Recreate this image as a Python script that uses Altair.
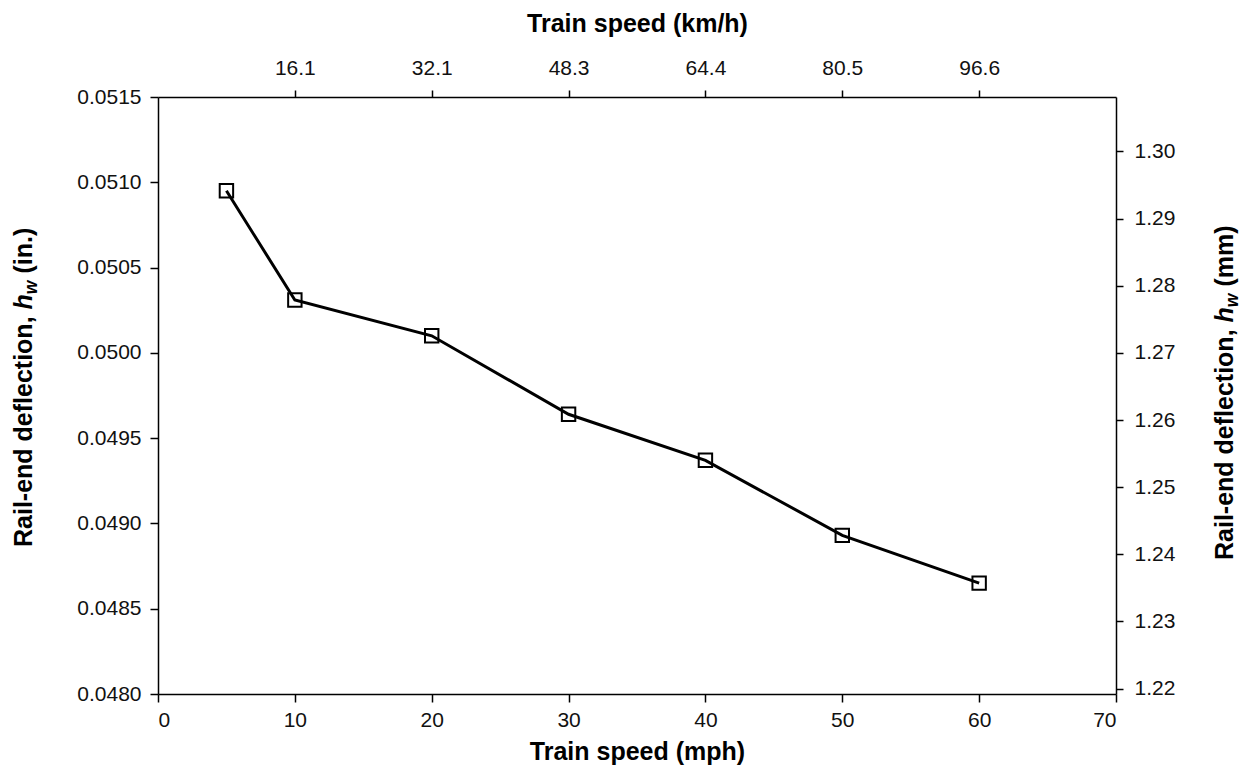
import altair as alt
import pandas as pd

# ---- data ----
speed_mph = [5, 10, 20, 30, 40, 50, 60]
deflection_in = [0.05095, 0.05031, 0.05010, 0.04964, 0.04937, 0.04893, 0.04865]

x_ticks = [0, 10, 20, 30, 40, 50, 60, 70]
y_ticks_in = [0.0480, 0.0485, 0.0490, 0.0495, 0.0500, 0.0505, 0.0510, 0.0515]
y_ticks_mm = [1.22, 1.23, 1.24, 1.25, 1.26, 1.27, 1.28, 1.29, 1.30]
top_ticks_mph = [10, 20, 30, 40, 50, 60]
top_tick_labels = ["16.1", "32.1", "48.3", "64.4", "80.5", "96.6"]

IN_TO_MM = 25.4
x_domain = [0, 70]
y_domain_in = [0.0480, 0.0515]
y_domain_mm = [y_domain_in[0] * IN_TO_MM, y_domain_in[1] * IN_TO_MM]

FONT = "Liberation Sans"
W, H = 958, 597

df = pd.DataFrame({"speed": speed_mph, "defl": deflection_in})
df["defl_mm"] = df["defl"] * IN_TO_MM
one = pd.DataFrame({"a": [0]})

axis_common = dict(
    grid=False, domainColor="black", tickColor="black", domainWidth=1.5,
    tickWidth=1.5, labelColor="#111111", titleColor="black",
    labelFont=FONT, titleFont=FONT, labelFontSize=21, titleFontSize=25,
    titleFontWeight="bold",
)

xs = alt.Scale(domain=x_domain, nice=False, zero=False)
ys_in = alt.Scale(domain=y_domain_in, nice=False, zero=False)
ys_mm = alt.Scale(domain=y_domain_mm, nice=False, zero=False)

x_bottom = alt.X("speed:Q", scale=xs, axis=alt.Axis(
    orient="bottom", values=x_ticks, format="d", title="Train speed (mph)",
    tickSize=8, labelPadding=7, titlePadding=9, **axis_common))
y_left = alt.Y("defl:Q", scale=ys_in, axis=alt.Axis(
    orient="left", values=y_ticks_in, format=".4f", title=None,
    tickSize=8, labelPadding=9, **axis_common))

line = alt.Chart(df).mark_line(color="black", strokeWidth=3).encode(
    x=x_bottom, y=y_left)

points = alt.Chart(df).mark_point(
    shape="square", filled=False, color="black", strokeWidth=2, size=180, opacity=1
).encode(
    x=alt.X("speed:Q", scale=xs, axis=None),
    y=alt.Y("defl:Q", scale=ys_in, axis=None),
)

label_array = "[" + ",".join("'%s'" % s for s in top_tick_labels) + "]"
top_right = alt.Chart(df).mark_point(opacity=0).encode(
    x=alt.X("speed:Q", scale=xs, axis=alt.Axis(
        orient="top", values=top_ticks_mph, title="Train speed (km/h)",
        labelExpr=label_array + "[round(datum.value / 10) - 1]",
        tickSize=7, labelPadding=12, titlePadding=21, **axis_common)),
    y=alt.Y("defl_mm:Q", scale=ys_mm, axis=alt.Axis(
        orient="right", values=y_ticks_mm, format=".2f", title=None,
        tickSize=7, labelPadding=11, **axis_common)),
)

# rotated y titles with italic h_w built from pieces
FS, FS_SUB = 25, 17.5
w_main = 9.502 * FS          # "Rail-end deflection, "
w_h = 0.611 * FS             # italic h
w_w = 0.778 * FS_SUB         # subscript w


def piece(text, dx, dy, size, italic, x, y):
    return alt.Chart(one).mark_text(
        text=text, angle=270, align="left", baseline="alphabetic",
        dx=dx, dy=dy, fontSize=size, fontWeight="bold",
        fontStyle="italic" if italic else "normal", font=FONT, color="black",
    ).encode(x=alt.value(x), y=alt.value(y))


def ytitle(unit, x, y):
    return [
        piece("Rail-end deflection,", 0, 0, FS, False, x, y),
        piece("h", w_main, 0, FS, True, x, y),
        piece("w", w_main + w_h, 5, FS_SUB, True, x, y),
        piece(unit, w_main + w_h + w_w + 0.278 * FS, 0, FS, False, x, y),
    ]


layers = [line, points, top_right] + ytitle("(in.)", -126, 450) + ytitle("(mm)", 1075, 463)

chart = alt.layer(*layers).resolve_scale(x="independent", y="independent").properties(
    width=W, height=H,
    autosize=alt.AutoSizeParams(type="none"),
    padding={"left": 150, "top": 89, "right": 128, "bottom": 72},
    background="white",
).configure_view(stroke=None)

chart.save("out.html", embed_options={"renderer": "svg", "actions": False})
